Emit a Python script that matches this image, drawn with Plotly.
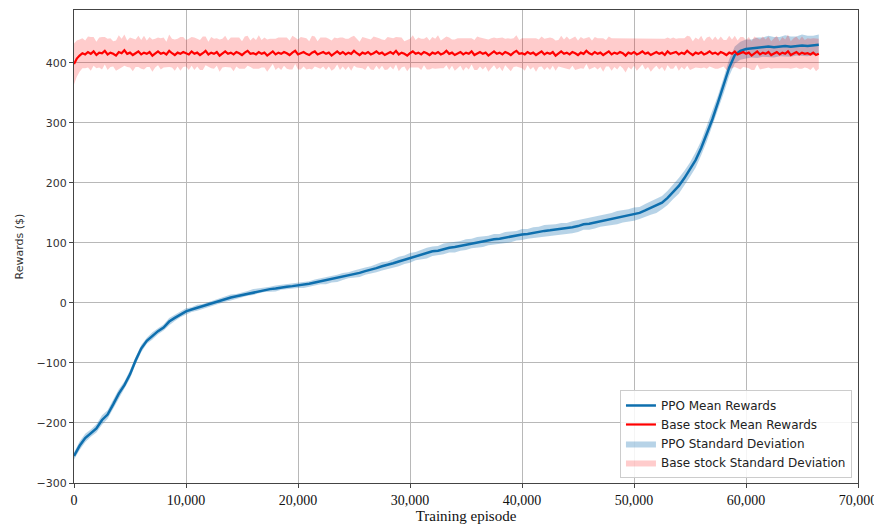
import plotly.graph_objects as go

PPO_STEP = 500
BASE_STEP = 250

ppo_mean = [
    -255, -238, -225, -217, -209, -195, -186, -169, -151, -137,
    -119, -96, -76, -63, -55, -47, -41, -31, -25, -19,
    -14, -11, -8, -6, -3, 0, 3, 6, 9, 11,
    13, 16, 18, 20, 22, 23, 24, 26, 27, 28,
    29, 30, 32, 34, 36, 37, 39, 41, 44, 46,
    48, 50, 53, 55, 58, 61, 63, 66, 69, 72,
    75, 78, 81, 83, 86, 87, 90, 92, 93, 95,
    97, 99, 101, 102, 104, 106, 107, 109, 110, 112,
    114, 115, 117, 118, 120, 121, 122, 123, 124, 126,
    128, 131, 132, 134, 136, 138, 140, 142, 144, 146,
    148, 150, 154, 158, 162, 167, 175, 185, 195, 208,
    222, 238, 258, 282, 306, 334, 362, 392, 413, 420,
    423, 424, 425, 426, 427, 426, 427, 428, 427, 428,
    429, 428, 429, 430,
]

ppo_std = [
    6, 7, 7, 6, 7, 8, 7, 8, 7, 6, 7, 6, 6, 5, 6, 5, 5, 6, 5, 5,
    5, 4, 5, 4, 4, 5, 4, 4, 5, 4, 4, 4, 5, 4, 4, 4, 5, 4, 4, 4,
    4, 5, 4, 5, 5, 6, 5, 6, 6, 5, 6, 7, 6, 6, 7, 7, 6, 7, 8, 7,
    8, 7, 8, 9, 8, 8, 9, 8, 9, 8, 9, 8, 9, 9, 8, 9, 8, 9, 9, 8,
    9, 8, 9, 9, 10, 9, 9, 10, 9, 10, 10, 9, 10, 10, 9, 10, 10, 11, 10, 10,
    11, 10, 11, 11, 12, 11, 12, 12, 13, 12, 12, 13, 12, 13, 13, 12, 13, 14, 14, 15,
    16, 15, 17, 16, 18, 17, 16, 18, 17, 16, 18, 17, 16, 17,
]

base_mean = [
    398, 407, 412, 416, 414, 418, 415, 419, 413, 417,
    416, 420, 414, 417, 415, 412, 418, 416, 421, 415,
    417, 413, 416, 419, 414, 417, 415, 418, 412, 416,
    419, 415, 417, 414, 420, 416, 413, 417, 415, 418,
    416, 414, 419, 415, 417, 413, 416, 420, 414, 417,
    415, 418, 412, 416, 419, 415, 417, 414, 418, 416,
    413, 417, 420, 415, 416, 414, 418, 415, 417, 412,
    416, 419, 414, 417, 415, 418, 416, 413, 417, 420,
    414, 416, 418, 415, 413, 417, 419, 414, 416, 418,
    415, 417, 412, 416, 419, 415, 418, 414, 417, 415,
    420, 416, 413, 417, 415, 418, 414, 416, 419, 415,
    417, 413, 416, 418, 415, 420, 414, 417, 415, 412,
    416, 419, 415, 417, 414, 418, 416, 413, 417, 415,
    418, 414, 416, 420, 415, 417, 413, 416, 418, 414,
    417, 415, 419, 413, 416, 418, 415, 417, 412, 416,
    419, 415, 417, 414, 418, 416, 413, 417, 420, 415,
    416, 414, 418, 415, 417, 413, 416, 419, 414, 417,
    415, 418, 412, 416, 419, 415, 417, 414, 418, 416,
    413, 417, 415, 420, 416, 414, 418, 415, 417, 413,
    416, 419, 414, 417, 415, 418, 416, 412, 417, 415,
    418, 414, 416, 419, 415, 417, 413, 416, 418, 415,
    417, 413, 419, 415, 416, 418, 414, 417, 415, 420,
    416, 413, 417, 415, 418, 414, 416, 419, 415, 417,
    414, 418, 416, 413, 417, 415, 419, 414, 416, 418,
    415, 417, 412, 416, 419, 414, 417, 415, 418, 413,
    416, 418, 414, 417, 415, 419, 413, 416, 418, 414,
    417, 415, 416, 414, 417, 413, 415,
]

base_std = [
    34, 30, 27, 25, 23, 26, 28, 24, 22, 25,
    27, 23, 26, 24, 21, 25, 28, 24, 26, 22,
    25, 27, 23, 26, 24, 28, 22, 25, 27, 24,
    23, 26, 25, 21, 27, 24, 26, 23, 28, 25,
    22, 26, 24, 27, 23, 25, 28, 24, 21, 26,
    25, 23, 27, 24, 26, 22, 25, 28, 24, 26,
    23, 27, 25, 22, 26, 24, 28, 23, 25, 27,
    24, 21, 26, 25, 27, 23, 26, 24, 28, 22,
    25, 27, 24, 26, 23, 28, 25, 22, 26, 24,
    27, 23, 25, 26, 22, 27, 24, 26, 23, 28,
    25, 24, 22, 26, 27, 23, 25, 28, 24, 26,
    22, 25, 27, 24, 26, 23, 28, 25, 21, 26,
    24, 27, 23, 25, 26, 22, 27, 24, 26, 25,
    28, 23, 25, 24, 27, 22, 26, 25, 23, 27,
    24, 26, 22, 25, 28, 24, 26, 23, 27, 25,
    23, 26, 24, 28, 22, 25, 27, 24, 26, 23,
    25, 27, 22, 26, 24, 28, 23, 25, 26, 24,
    27, 23, 25, 22, 26, 24, 27, 25, 23, 28,
    24, 26, 25, 22, 27, 23, 25, 26, 24, 28,
    22, 25, 27, 24, 26, 23, 25, 28, 24, 26,
    23, 27, 25, 22, 26, 24, 28, 25, 23, 26,
    24, 27, 23, 25, 26, 22, 27, 24, 26, 25,
    28, 23, 25, 24, 27, 22, 26, 25, 23, 27,
    24, 26, 22, 25, 28, 24, 26, 23, 27, 25,
    23, 26, 24, 28, 22, 25, 27, 24, 26, 23,
    25, 27, 22, 26, 24, 28, 23, 25, 26, 24,
    27, 23, 25, 26, 24, 27, 25,
]

x_ticks = [0, 10000, 20000, 30000, 40000, 50000, 60000, 70000]
y_ticks = [-300, -200, -100, 0, 100, 200, 300, 400]

n_p = min(len(ppo_mean), len(ppo_std))
ppo_x = [i * PPO_STEP for i in range(n_p)]
ppo_mean, ppo_std = ppo_mean[:n_p], ppo_std[:n_p]
n_b = min(len(base_mean), len(base_std))
base_x = [i * BASE_STEP for i in range(n_b)]
base_mean, base_std = base_mean[:n_b], base_std[:n_b]

ppo_up = [m + s for m, s in zip(ppo_mean, ppo_std)]
ppo_lo = [m - s for m, s in zip(ppo_mean, ppo_std)]
base_up = [m + s for m, s in zip(base_mean, base_std)]
base_lo = [m - s for m, s in zip(base_mean, base_std)]

fig = go.Figure()
fig.add_trace(go.Scatter(
    x=ppo_x + ppo_x[::-1], y=ppo_up + ppo_lo[::-1],
    fill="toself", fillcolor="rgba(31,119,180,0.32)", line=dict(width=0),
    mode="lines", name="PPO Standard Deviation", legendrank=3, hoverinfo="skip"))
fig.add_trace(go.Scatter(
    x=base_x + base_x[::-1], y=base_up + base_lo[::-1],
    fill="toself", fillcolor="rgba(255,0,0,0.2)", line=dict(width=0),
    mode="lines", name="Base stock Standard Deviation", legendrank=4, hoverinfo="skip"))
fig.add_trace(go.Scatter(
    x=ppo_x, y=ppo_mean, mode="lines", line=dict(color="#0e6fae", width=2.5),
    name="PPO Mean Rewards", legendrank=1))
fig.add_trace(go.Scatter(
    x=base_x, y=base_mean, mode="lines", line=dict(color="#ff0000", width=2.2),
    name="Base stock Mean Rewards", legendrank=2))

axis_common = dict(
    showline=True, linecolor="#444", linewidth=1.2, mirror=True,
    showgrid=True, gridcolor="#b8b8b8", gridwidth=1,
    ticks="outside", ticklen=4, tickcolor="#444", zeroline=False,
)

# The page body adds an 8px offset, so the figure is sized to compensate.
fig.update_layout(
    width=874, height=516,
    margin=dict(l=66, r=24, t=2, b=41),
    paper_bgcolor="white", plot_bgcolor="white",
    showlegend=True,
    legend=dict(
        x=0.9923, y=0.0106, xanchor="right", yanchor="bottom",
        bgcolor="rgba(255,255,255,0.85)", bordercolor="#cccccc", borderwidth=1,
        font=dict(family="DejaVu Sans", size=12, color="#222"),
        itemwidth=30, tracegroupgap=0,
    ),
    xaxis=dict(
        range=[0, 70000], tickvals=x_ticks, tickformat=",",
        tickfont=dict(family="Liberation Serif", size=14, color="#111"),
        title=dict(text="Training episode", standoff=5,
                   font=dict(family="Liberation Serif", size=15, color="#111")),
        automargin=False, **axis_common),
    yaxis=dict(
        range=[-300, 488], tickvals=y_ticks,
        tickfont=dict(family="DejaVu Sans", size=11, color="#333"),
        title=dict(text="Rewards ($)", standoff=10,
                   font=dict(family="DejaVu Sans", size=11, color="#333")),
        automargin=False, **axis_common),
)

fig.write_html("out.html")
